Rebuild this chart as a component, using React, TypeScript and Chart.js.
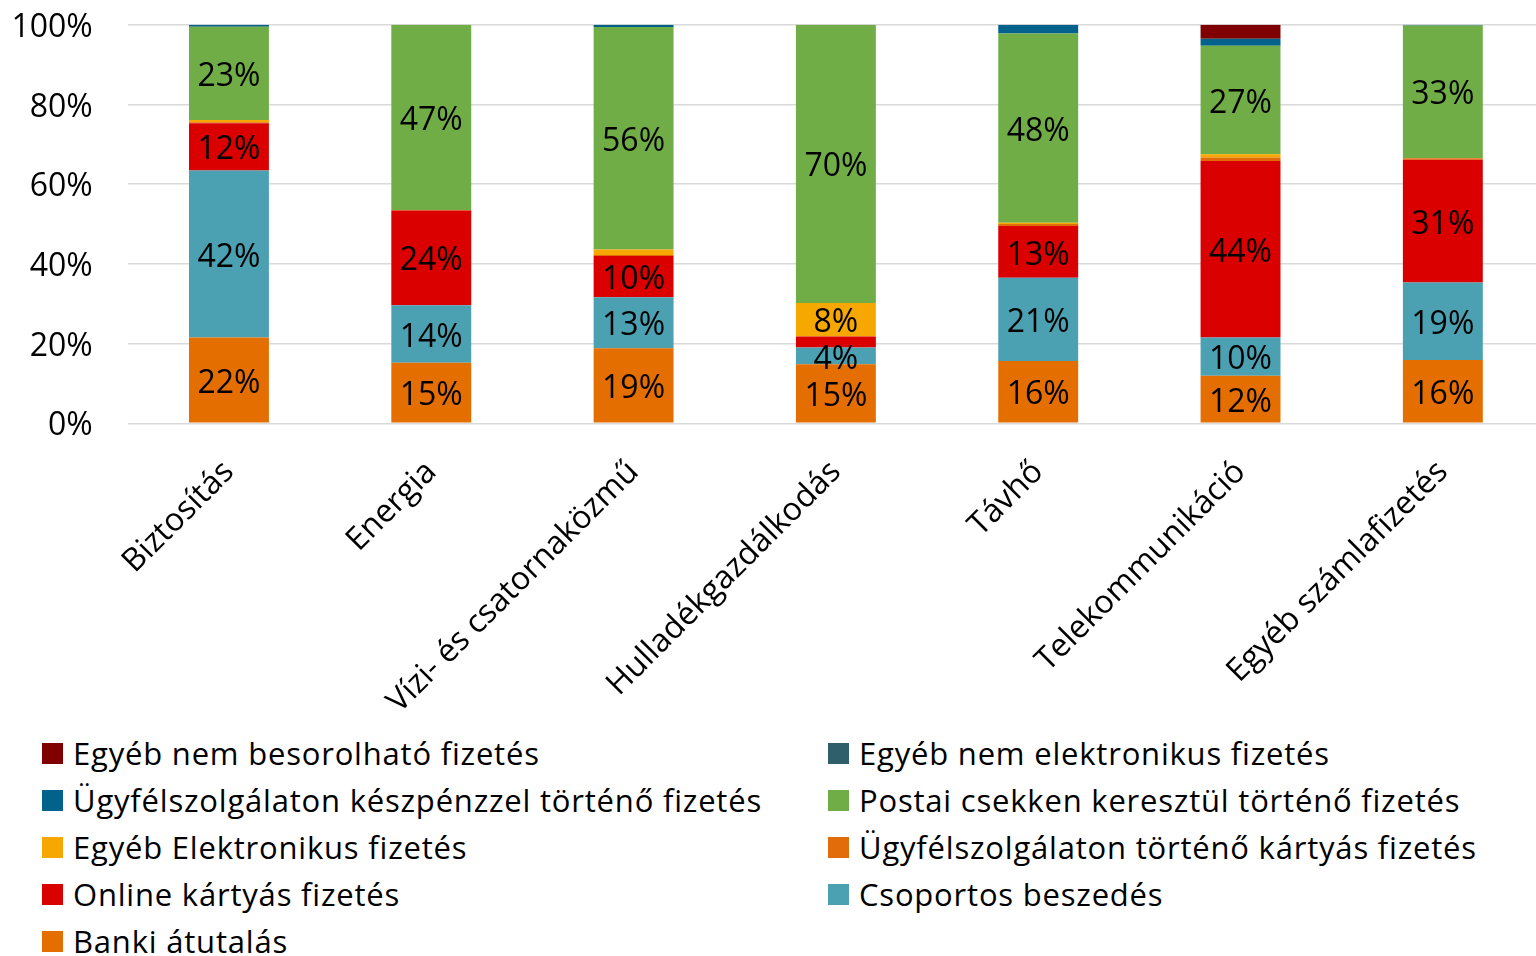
import React, { useEffect, useRef } from "react";
import { Chart, registerables } from "chart.js";

Chart.register(...registerables);

const categories = [
  "Biztosítás",
  "Energia",
  "Vízi- és csatornaközmű",
  "Hulladékgazdálkodás",
  "Távhő",
  "Telekommunikáció",
  "Egyéb számlafizetés",
];

// stacked bottom -> top
const bankiAtutalas = [21.5, 15.2, 18.8, 14.8, 15.6, 11.9, 15.9];
const csoportosBeszedes = [41.9, 14.4, 12.8, 4.2, 20.9, 9.6, 19.4];
const onlineKartyas = [11.9, 23.8, 10.4, 2.8, 13.0, 44.3, 30.8];
const ugyfelKartyas = [0.2, 0.1, 0.2, 0.0, 0.5, 0.9, 0.4];
const egyebElektronikus = [0.6, 0.0, 1.4, 8.4, 0.3, 0.8, 0.0];
const postaiCsekk = [23.4, 46.5, 55.8, 69.8, 47.5, 27.2, 33.3];
const ugyfelKeszpenz = [0.5, 0.0, 0.6, 0.0, 2.2, 1.8, 0.2];
const egyebNemElektronikus = [0.0, 0.0, 0.0, 0.0, 0.0, 0.0, 0.0];
const egyebNemBesorolhato = [0.0, 0.0, 0.0, 0.0, 0.0, 3.5, 0.0];

const yTicks = [0, 20, 40, 60, 80, 100];

const seriesDefs = [
  { label: "Banki átutalás", data: bankiAtutalas, color: "#E46F00" },
  { label: "Csoportos beszedés", data: csoportosBeszedes, color: "#4BA1B1" },
  { label: "Online kártyás fizetés", data: onlineKartyas, color: "#DA0000" },
  { label: "Ügyfélszolgálaton történő kártyás fizetés", data: ugyfelKartyas, color: "#E36C0A" },
  { label: "Egyéb Elektronikus fizetés", data: egyebElektronikus, color: "#F6A800" },
  { label: "Postai csekken keresztül történő fizetés", data: postaiCsekk, color: "#70AD47" },
  { label: "Ügyfélszolgálaton készpénzzel történő fizetés", data: ugyfelKeszpenz, color: "#02628C" },
  { label: "Egyéb nem elektronikus fizetés", data: egyebNemElektronikus, color: "#2E5F6B" },
  { label: "Egyéb nem besorolható fizetés", data: egyebNemBesorolhato, color: "#800000" },
];

const FONT = "'Open Sans', 'Noto Sans', sans-serif";
const CANVAS_W = 1544;
const CANVAS_H = 720;
const PLOT_LEFT = 127.8;
const PLOT_TOP = 24.7;
const PLOT_BOTTOM = 423.3;

const dataLabelPlugin = {
  id: "segLabels",
  afterDatasetsDraw(chart: any) {
    const ctx = chart.ctx;
    ctx.save();
    ctx.font = `32px ${FONT}`;
    ctx.fillStyle = "#000";
    ctx.textAlign = "center";
    ctx.textBaseline = "middle";
    chart.data.datasets.forEach((ds: any, di: number) => {
      const meta = chart.getDatasetMeta(di);
      meta.data.forEach((bar: any, i: number) => {
        const v = ds.data[i];
        if (v >= 3.8) {
          const y = (bar.y + bar.base) / 2;
          ctx.fillText(Math.round(v) + "%", bar.x, y + 3.5);
        }
      });
    });
    ctx.restore();
  },
};

export default function App() {
  const ref = useRef<HTMLCanvasElement>(null);

  useEffect(() => {
    document.body.style.margin = "0";
    document.body.style.overflow = "hidden";
    const chart = new Chart(ref.current as HTMLCanvasElement, {
      type: "bar",
      data: {
        labels: categories,
        datasets: seriesDefs.map((s) => ({
          label: s.label,
          data: s.data,
          backgroundColor: s.color,
          borderWidth: 0,
          categoryPercentage: 1,
          barPercentage: 0.395,
        })),
      },
      options: {
        responsive: false,
        maintainAspectRatio: false,
        animation: false,
        layout: { padding: { top: PLOT_TOP, left: 0, right: 0, bottom: 0 } },
        plugins: {
          legend: { display: false },
          tooltip: { enabled: false },
        },
        scales: {
          x: {
            stacked: true,
            grid: { display: false },
            border: { display: false },
            ticks: {
              color: "#000",
              font: { family: FONT, size: 32 },
              minRotation: 45,
              maxRotation: 45,
              autoSkip: false,
              padding: 22,
            },
            afterFit: (scale: any) => {
              scale.height = CANVAS_H - PLOT_BOTTOM;
              scale.paddingLeft = 0;
              scale.paddingRight = 0;
            },
          },
          y: {
            stacked: true,
            min: 0,
            max: 100,
            afterBuildTicks: (scale: any) => {
              scale.ticks = yTicks.map((v) => ({ value: v }));
            },
            grid: { color: "#D9D9D9", lineWidth: 1.5, drawTicks: false },
            border: { display: false },
            ticks: {
              color: "#000",
              font: { family: FONT, size: 32 },
              padding: 35,
              labelOffset: 3,
              callback: (v: any) => v + "%",
            },
            afterFit: (scale: any) => {
              scale.width = PLOT_LEFT;
              scale.paddingTop = 0;
              scale.paddingBottom = 0;
            },
          },
        },
      },
      plugins: [dataLabelPlugin],
    });
    return () => chart.destroy();
  }, []);

  const legendItems = [...seriesDefs].reverse();

  return (
    <div style={{ position: "relative", width: 1536, height: 956, overflow: "hidden", background: "#fff" }}>
      <canvas ref={ref} width={CANVAS_W} height={CANVAS_H} style={{ position: "absolute", left: 0, top: 0 }} />
      <div
        style={{
          position: "absolute",
          left: 42,
          top: 729.5,
          display: "grid",
          gridTemplateColumns: "786px auto",
          gridAutoRows: "47px",
          fontFamily: FONT,
          fontSize: 31,
          letterSpacing: "0.8px",
          color: "#000",
        }}
      >
        {legendItems.map((s) => (
          <div key={s.label} style={{ display: "flex", alignItems: "center", whiteSpace: "nowrap" }}>
            <span style={{ display: "inline-block", width: 21, height: 21, background: s.color, marginRight: 10, flex: "none" }} />
            <span>{s.label}</span>
          </div>
        ))}
      </div>
    </div>
  );
}
